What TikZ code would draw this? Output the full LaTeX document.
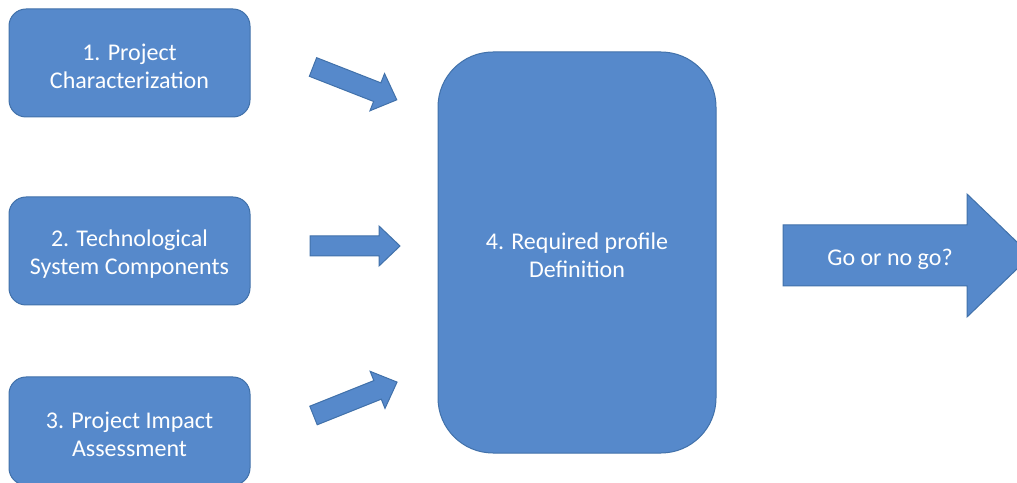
\documentclass[tikz,border=0pt]{standalone}
\usepackage{fontspec}
\setmainfont{Carlito}
\definecolor{boxfill}{RGB}{86,137,203}
\definecolor{boxline}{RGB}{65,113,170}
\begin{document}
\begin{tikzpicture}[x=1pt,y=1pt,
  blk/.style={draw=boxline, fill=boxfill, line width=1pt, rounded corners=17pt,
    minimum width=241pt, minimum height=108pt, inner sep=0pt},
  bigblk/.style={blk, rounded corners=55pt, minimum width=278pt, minimum height=401pt},
  blockarrow/.style={draw=boxline, fill=boxfill, line width=1pt, line join=miter},
  lbl/.style={text=white, font=\fontsize{24}{28}\selectfont, align=center, inner sep=0pt}]
\useasboundingbox (0,0) rectangle (1017,482);
\clip (0,0) rectangle (1017,482);
% boxes
\node[blk] (b1) at (129.5,419) {};
\node[blk] (b2) at (129.5,231) {};
\node[blk] (b3) at (129.5,51) {};
\node[bigblk] (b4) at (577,229.5) {};
\node[lbl] (t1) at ([yshift=-3pt]b1.center) {1. Project\\Characterization};
\node[lbl] (t2) at ([yshift=-3pt]b2.center) {2. Technological\\System Components};
\node[lbl] (t3) at ([yshift=-3pt]b3.center) {3. Project Impact\\Assessment};
\node[lbl] (t4) at ([yshift=-3pt]b4.center) {4. Required profile\\Definition};
% small block arrows
\draw[blockarrow, shift={(313,415)}, rotate=-21.4]
  (0,-10) -- (69,-10) -- (69,-20) -- (90,0) -- (69,20) -- (69,10) -- (0,10) -- cycle;
\draw[blockarrow, shift={(310,236)}]
  (0,-10) -- (69,-10) -- (69,-20) -- (90,0) -- (69,20) -- (69,10) -- (0,10) -- cycle;
\draw[blockarrow, shift={(313.5,66.5)}, rotate=21.8]
  (0,-10) -- (69,-10) -- (69,-20) -- (90,0) -- (69,20) -- (69,10) -- (0,10) -- cycle;
% big block arrow
\draw[blockarrow, shift={(783,226.5)}]
  (0,-30.5) -- (184,-30.5) -- (184,-61.5) -- (248,0) -- (184,61.5) -- (184,30.5) -- (0,30.5) -- cycle;
\node[lbl] (go) at (890,222.5) {Go or no go?};
\end{tikzpicture}
\end{document}
